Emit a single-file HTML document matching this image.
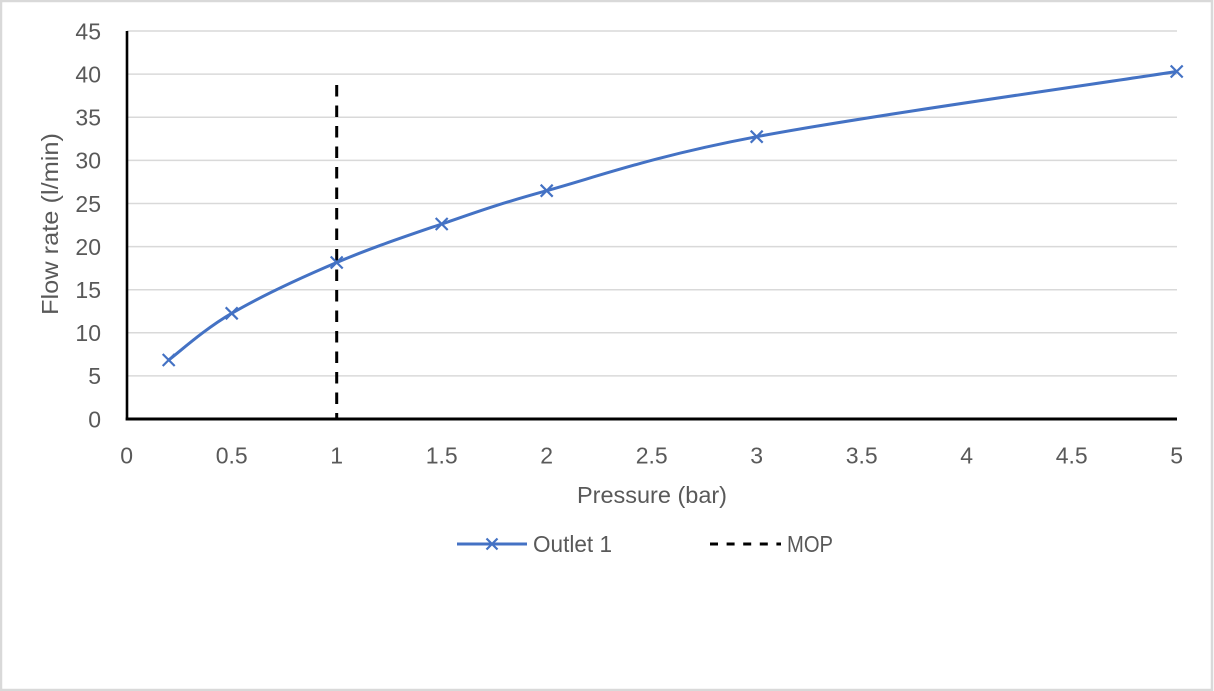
<!DOCTYPE html>
<html>
<head>
<meta charset="utf-8">
<style>
  html, body { margin: 0; padding: 0; background: #ffffff; }
  body { width: 1214px; height: 691px; overflow: hidden; }
  svg { display: block; }
  text { font-family: "Liberation Sans", sans-serif; fill: #595959; }
</style>
</head>
<body>
<svg width="1214" height="691" viewBox="0 0 1214 691" xmlns="http://www.w3.org/2000/svg">
  <!-- frame -->
  <rect x="1" y="1" width="1211" height="689" fill="#ffffff" stroke="#d9d9d9" stroke-width="2.5"/>

  <!-- gridlines -->
  <g stroke="#d9d9d9" stroke-width="1.5">
    <line x1="127" y1="31" x2="1177" y2="31"/>
    <line x1="127" y1="74.1" x2="1177" y2="74.1"/>
    <line x1="127" y1="117.2" x2="1177" y2="117.2"/>
    <line x1="127" y1="160.4" x2="1177" y2="160.4"/>
    <line x1="127" y1="203.5" x2="1177" y2="203.5"/>
    <line x1="127" y1="246.6" x2="1177" y2="246.6"/>
    <line x1="127" y1="289.7" x2="1177" y2="289.7"/>
    <line x1="127" y1="332.8" x2="1177" y2="332.8"/>
    <line x1="127" y1="375.9" x2="1177" y2="375.9"/>
  </g>

  <!-- axes -->
  <line x1="127" y1="31" x2="127" y2="420.5" stroke="#000" stroke-width="2.6"/>
  <line x1="125.7" y1="419" x2="1177" y2="419" stroke="#000" stroke-width="3"/>

  <!-- y tick labels -->
  <g font-size="23" text-anchor="end">
    <text x="101" y="39.3">45</text>
    <text x="101" y="82.4">40</text>
    <text x="101" y="125.5">35</text>
    <text x="101" y="168.7">30</text>
    <text x="101" y="211.8">25</text>
    <text x="101" y="254.9">20</text>
    <text x="101" y="298">15</text>
    <text x="101" y="341.1">10</text>
    <text x="101" y="384.2">5</text>
    <text x="101" y="427.3">0</text>
  </g>

  <!-- x tick labels -->
  <g font-size="23" text-anchor="middle">
    <text x="126.7" y="463.5">0</text>
    <text x="231.7" y="463.5">0.5</text>
    <text x="336.7" y="463.5">1</text>
    <text x="441.7" y="463.5">1.5</text>
    <text x="546.7" y="463.5">2</text>
    <text x="651.7" y="463.5">2.5</text>
    <text x="756.7" y="463.5">3</text>
    <text x="861.7" y="463.5">3.5</text>
    <text x="966.7" y="463.5">4</text>
    <text x="1071.7" y="463.5">4.5</text>
    <text x="1176.7" y="463.5">5</text>
  </g>

  <!-- axis titles -->
  <text x="577" y="503" font-size="23" textLength="150" lengthAdjust="spacingAndGlyphs">Pressure (bar)</text>
  <text transform="translate(58,315) rotate(-90)" x="0" y="0" font-size="23" textLength="182" lengthAdjust="spacingAndGlyphs">Flow rate (l/min)</text>

  <!-- MOP dashed line -->
  <line x1="336.7" y1="85" x2="336.7" y2="419" stroke="#000" stroke-width="3" stroke-dasharray="11.5 9"/>

  <!-- Outlet 1 series -->
  <path d="M168.7,360 C179.2,352.2 203.7,329.55 231.7,313.3
           C259.7,297.05 301.7,277.38 336.7,262.5
           C371.7,247.62 406.7,235.97 441.7,224
           C476.7,212.03 494.2,205.25 546.7,190.7
           C599.2,176.15 651.7,156.57 756.7,136.7
           C861.7,116.83 1106.7,82.37 1176.7,71.5"
        fill="none" stroke="#4472c4" stroke-width="3" stroke-linejoin="round" stroke-linecap="round"/>

  <g stroke="#4472c4" stroke-width="2.2" fill="none">
    <path d="M162.7,354 L174.7,366 M162.7,366 L174.7,354"/>
    <path d="M225.7,307.3 L237.7,319.3 M225.7,319.3 L237.7,307.3"/>
    <path d="M330.7,256.5 L342.7,268.5 M330.7,268.5 L342.7,256.5"/>
    <path d="M435.7,218 L447.7,230 M435.7,230 L447.7,218"/>
    <path d="M540.7,184.7 L552.7,196.7 M540.7,196.7 L552.7,184.7"/>
    <path d="M750.7,130.7 L762.7,142.7 M750.7,142.7 L762.7,130.7"/>
    <path d="M1170.7,65.5 L1182.7,77.5 M1170.7,77.5 L1182.7,65.5"/>
  </g>

  <!-- legend -->
  <line x1="457" y1="544" x2="527" y2="544" stroke="#4472c4" stroke-width="3"/>
  <path d="M486.5,538.5 L497.5,549.5 M486.5,549.5 L497.5,538.5" stroke="#4472c4" stroke-width="2.2" fill="none"/>
  <text x="533" y="552" font-size="23" textLength="79" lengthAdjust="spacingAndGlyphs">Outlet 1</text>

  <line x1="710" y1="544" x2="781" y2="544" stroke="#000" stroke-width="3" stroke-dasharray="8 8.6"/>
  <text x="787" y="552" font-size="23" textLength="46" lengthAdjust="spacingAndGlyphs">MOP</text>
</svg>
</body>
</html>
